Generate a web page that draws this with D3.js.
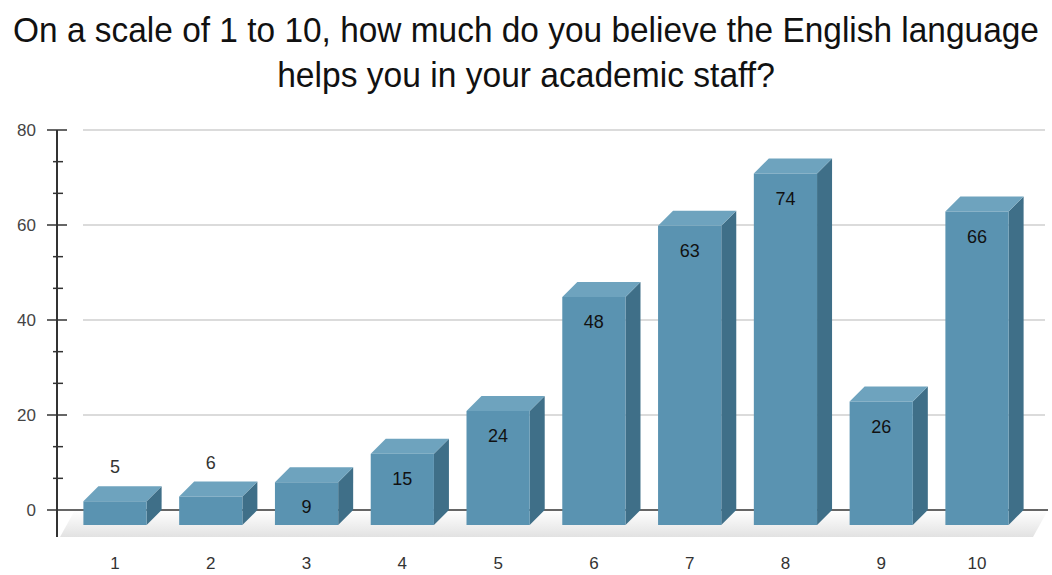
<!DOCTYPE html>
<html><head><meta charset="utf-8">
<script src="https://cdn.jsdelivr.net/npm/d3@7"></script>
<style>body{margin:0;background:#fff}svg{display:block}</style>
</head><body>
<svg id="c" width="1052" height="575"></svg>
<script>
const titleLines = ["On a scale of 1 to 10, how much do you believe the English language", "helps you in your academic staff?"];
const categories = ["1","2","3","4","5","6","7","8","9","10"];
const values = [5, 6, 9, 15, 24, 48, 63, 74, 26, 66];
const yTicks = [0, 20, 40, 60, 80];

const svg = d3.select("#c");
const depthX = 15, depthY = 15;
const y = d3.scaleLinear().domain([0, 80]).range([510, 130]);
const x = d3.scalePoint().domain(categories).range([115, 977]);
const bw = x.step() * 0.66;

// title (horizontally condensed like the reference)
const titleWidths = [1026, 498];
const titleBase = [42, 87];
titleLines.forEach((t, i) => {
  const tx = svg.append("text").attr("text-anchor", "middle")
    .attr("font-family", "Liberation Sans, Arial, sans-serif").attr("font-size", 36).attr("fill", "#111")
    .text(t);
  const len = tx.node().getComputedTextLength();
  tx.attr("transform", `translate(526,${titleBase[i]}) scale(${titleWidths[i] / len},1)`);
});

// floor
const defs = svg.append("defs");
const g = defs.append("linearGradient").attr("id", "floor").attr("x1", 0).attr("y1", 0).attr("x2", 0).attr("y2", 1);
g.append("stop").attr("offset", "0%").attr("stop-color", "#ffffff");
g.append("stop").attr("offset", "60%").attr("stop-color", "#eeeeee");
g.append("stop").attr("offset", "100%").attr("stop-color", "#e2e2e2");
svg.append("polygon")
  .attr("points", [[75, y(0)], [1048, y(0)], [1033, y(0) + depthY + 12], [60, y(0) + depthY + 12]].map(p => p.join(",")).join(" "))
  .attr("fill", "url(#floor)");

// gridlines
svg.append("g").selectAll("line").data(yTicks.filter(d => d > 0)).join("line")
  .attr("x1", 83).attr("x2", 1045).attr("y1", d => y(d)).attr("y2", d => y(d))
  .attr("stroke", "#cfcfcf").attr("stroke-width", 1.5);
// zero line
svg.append("line").attr("x1", 67).attr("x2", 1048).attr("y1", y(0)).attr("y2", y(0))
  .attr("stroke", "#333").attr("stroke-width", 1.5);

// y axis
const axisX = 57;
svg.append("line").attr("x1", axisX).attr("x2", axisX).attr("y1", y(80)).attr("y2", 537)
  .attr("stroke", "#333").attr("stroke-width", 2);
const minor = d3.range(0, 80, 20 / 3).filter(v => Math.abs(v - Math.round(v / 20) * 20) > 0.01);
svg.append("g").selectAll("line").data(minor).join("line")
  .attr("x1", axisX - 4).attr("x2", axisX + 6).attr("y1", d => y(d)).attr("y2", d => y(d))
  .attr("stroke", "#333").attr("stroke-width", 1.5);
svg.append("g").selectAll("line").data(yTicks).join("line")
  .attr("x1", axisX - 10).attr("x2", axisX + 10).attr("y1", d => y(d)).attr("y2", d => y(d))
  .attr("stroke", "#333").attr("stroke-width", 1.5);
svg.append("g").selectAll("text").data(yTicks).join("text")
  .attr("x", 36).attr("y", d => y(d) + 6).attr("text-anchor", "end")
  .attr("font-family", "Liberation Sans, Arial, sans-serif").attr("font-size", 17).attr("fill", "#444")
  .text(d => d);

// bars
const data = categories.map((c, i) => ({c, v: values[i]}));
const bars = svg.append("g").selectAll("g").data(data).join("g");
bars.each(function(d) {
  const gb = d3.select(this);
  const x0 = x(d.c) - bw / 2, x1 = x(d.c) + bw / 2;
  const yt = y(d.v) + depthY, yb = y(0) + depthY;
  gb.append("polygon").attr("points", [[x1, yt], [x1 + depthX, yt - depthY], [x1 + depthX, yb - depthY], [x1, yb]].map(p => p.join(",")).join(" "))
    .attr("fill", "#3f6f88");
  gb.append("polygon").attr("points", [[x0, yt], [x0 + depthX, yt - depthY], [x1 + depthX, yt - depthY], [x1, yt]].map(p => p.join(",")).join(" "))
    .attr("fill", "#6ea3be");
  gb.append("rect").attr("x", x0).attr("y", yt).attr("width", bw).attr("height", yb - yt).attr("fill", "#5a93b1");
  const inside = d.v >= 8;
  gb.append("text").attr("x", x(d.c)).attr("y", inside ? yt + 31 : yt - depthY - 13)
    .attr("text-anchor", "middle").attr("font-family", "Liberation Sans, Arial, sans-serif")
    .attr("font-size", 18).attr("fill", inside ? "#111" : "#333").text(d.v);
});

// x labels
svg.append("g").selectAll("text").data(categories).join("text")
  .attr("x", d => x(d)).attr("y", 569).attr("text-anchor", "middle")
  .attr("font-family", "Liberation Sans, Arial, sans-serif").attr("font-size", 17).attr("fill", "#333")
  .text(d => d);
</script>
</body></html>
